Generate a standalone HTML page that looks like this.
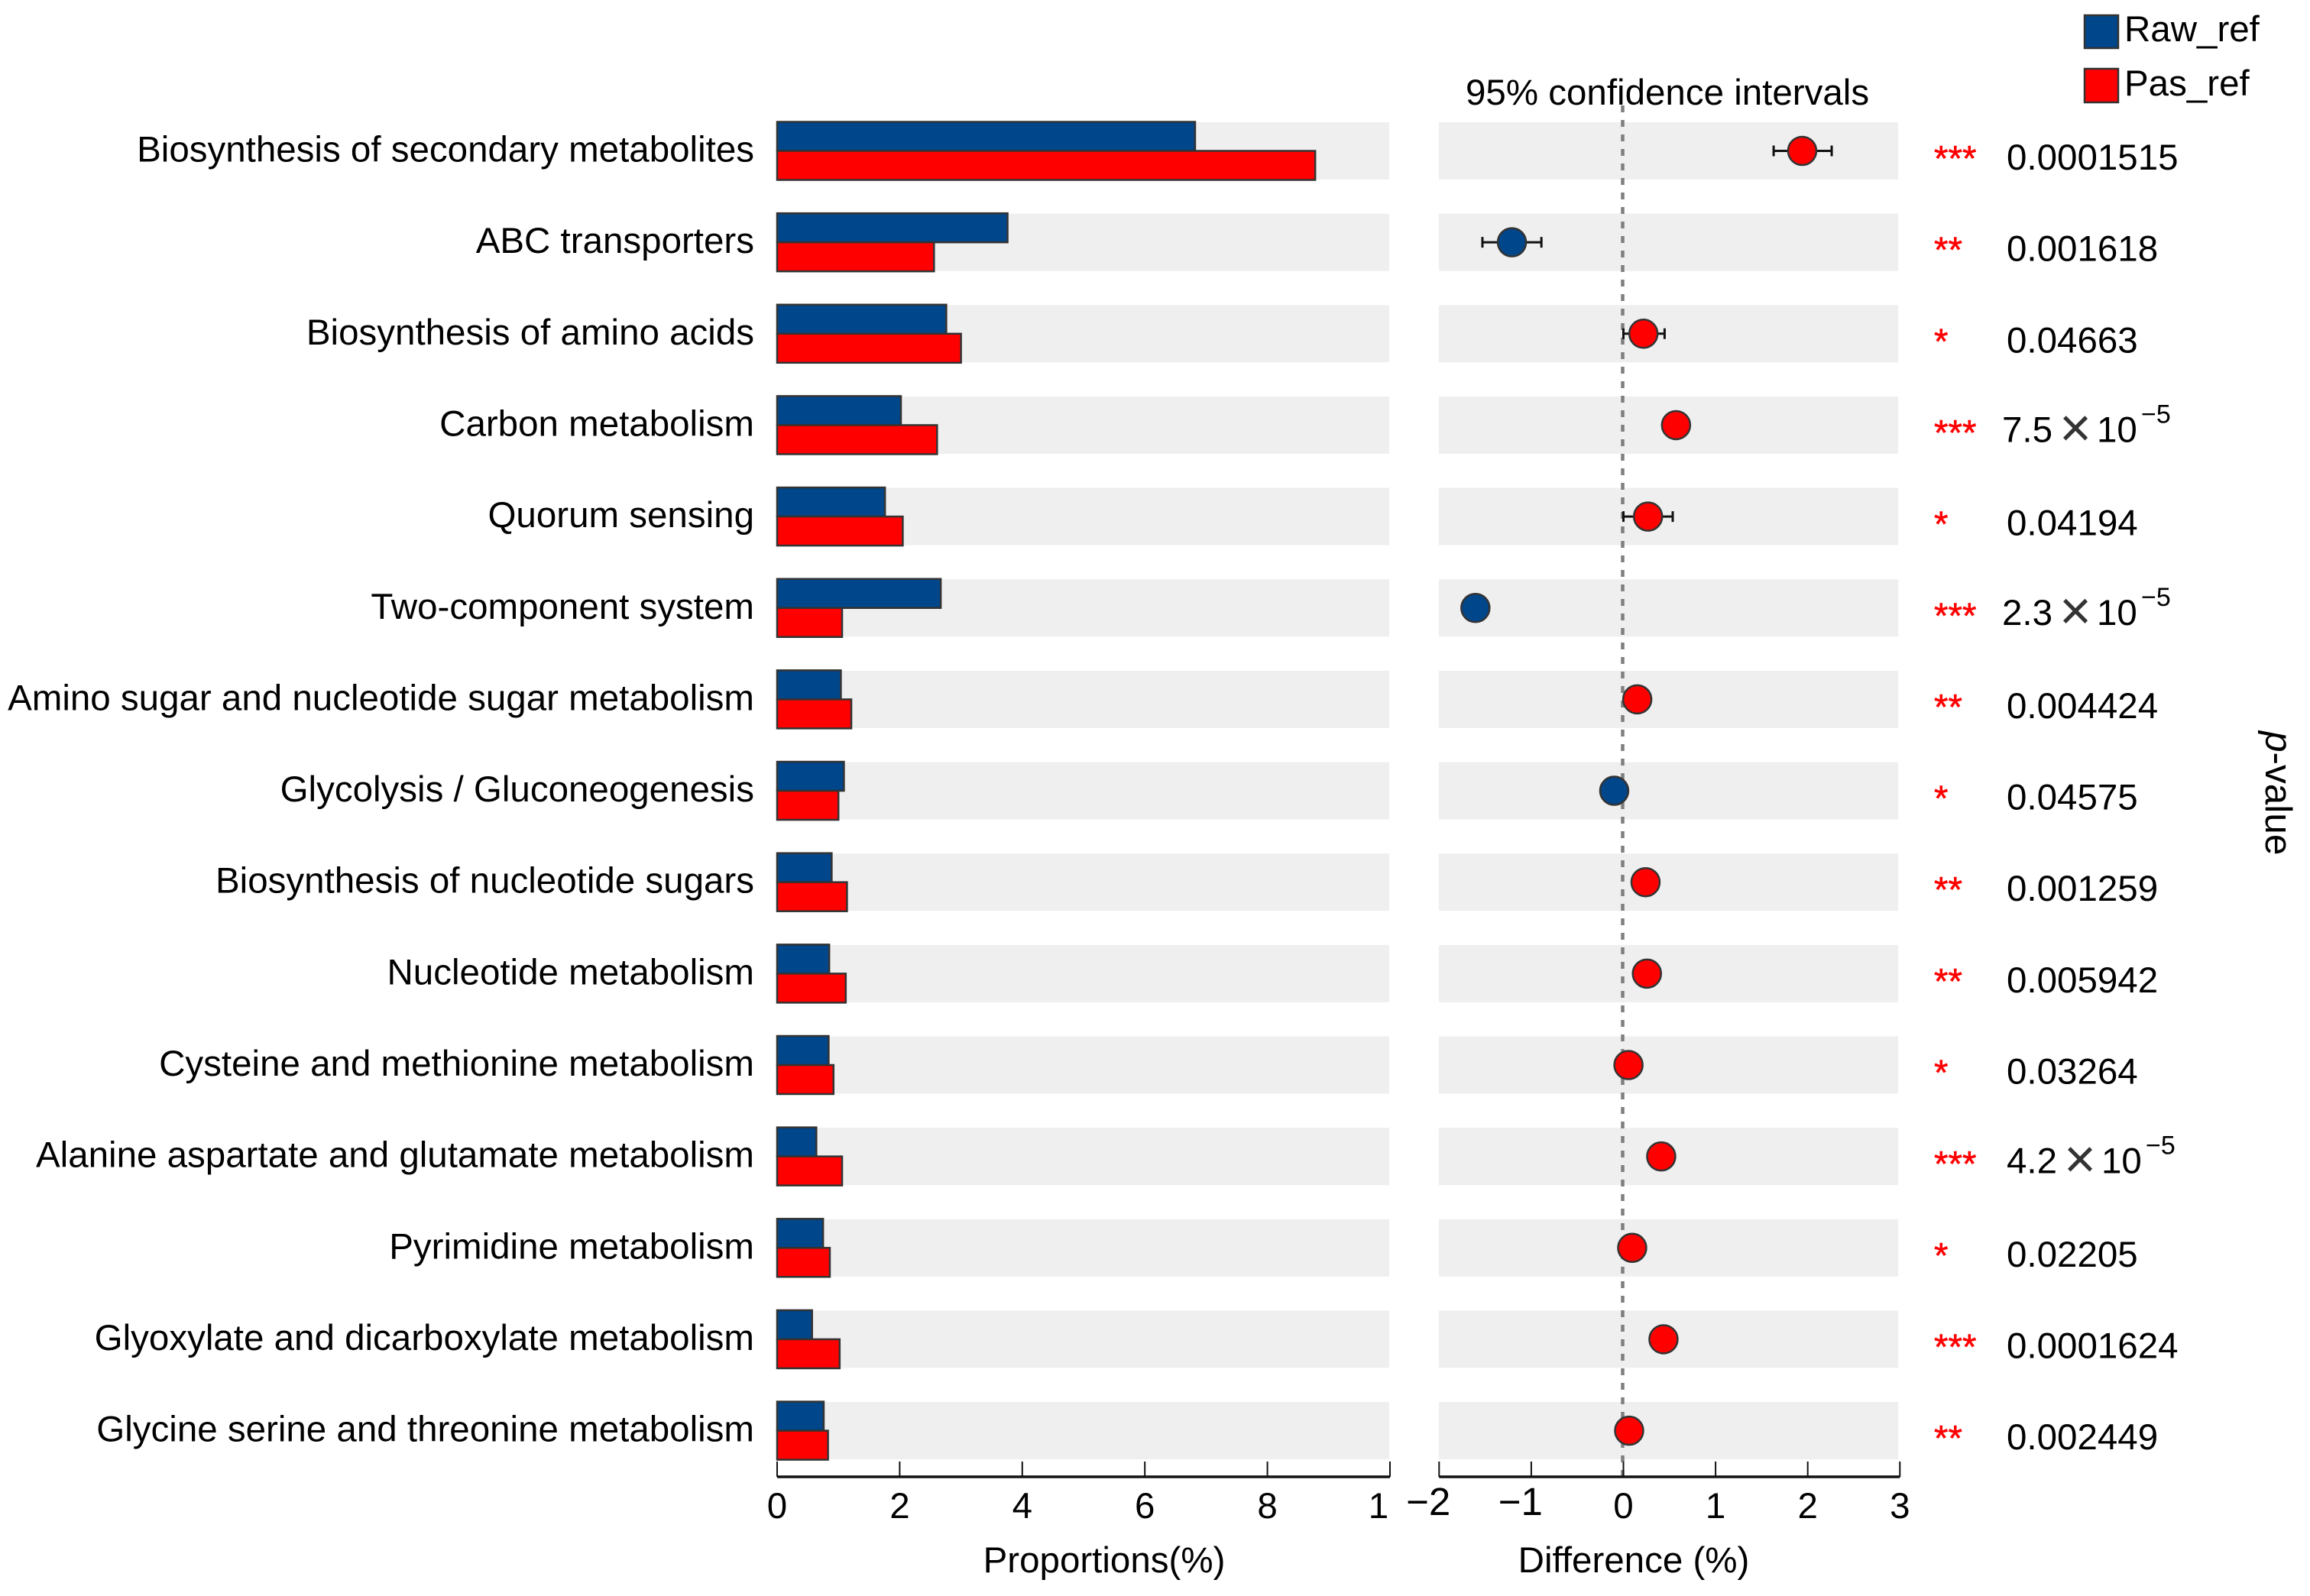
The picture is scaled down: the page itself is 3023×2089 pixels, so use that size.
<!DOCTYPE html>
<html lang="en">
<head>
<meta charset="utf-8">
<title>Pathway proportions and differences</title>
<style>
  html, body { margin: 0; padding: 0; background: #fff; }
  svg { display: block; }
  text { font-family: "Liberation Sans", Arial, sans-serif; font-size: 47.5px; fill: #000; }
</style>
</head>
<body>
<svg id="chart" xmlns="http://www.w3.org/2000/svg" width="3023" height="2089" viewBox="0 0 3023 2089">
  <g id="row-bands"></g>
  <g id="bars"></g>
  <g id="row-labels"></g>
  <line id="zero-line" stroke="#7f7f7f" stroke-width="4.5" stroke-dasharray="9 10"></line>
  <g id="points"></g>
  <g id="pvals"></g>
  <g id="axes"></g>

  <text x="1918" y="137">95% confidence intervals</text>
  <text x="1445" y="2058" text-anchor="middle">Proportions(%)</text>
  <text x="2138" y="2058" text-anchor="middle">Difference (%)</text>
  <text transform="translate(2965 957) rotate(90)" style="font-size:49.5px"><tspan font-style="italic">p</tspan>-value</text>

  <g>
    <rect x="2728" y="20" width="44" height="43" fill="#00468b" stroke="#333" stroke-width="2.5"></rect>
    <text x="2780" y="54">Raw_ref</text>
    <rect x="2728" y="90" width="44" height="44" fill="#ff0000" stroke="#333" stroke-width="2.5"></rect>
    <text x="2780" y="125">Pas_ref</text>
  </g>
</svg>

<script>
const categories = [
  'Biosynthesis of secondary metabolites',
  'ABC transporters',
  'Biosynthesis of amino acids',
  'Carbon metabolism',
  'Quorum sensing',
  'Two-component system',
  'Amino sugar and nucleotide sugar metabolism',
  'Glycolysis / Gluconeogenesis',
  'Biosynthesis of nucleotide sugars',
  'Nucleotide metabolism',
  'Cysteine and methionine metabolism',
  'Alanine aspartate and glutamate metabolism',
  'Pyrimidine metabolism',
  'Glyoxylate and dicarboxylate metabolism',
  'Glycine serine and threonine metabolism'
];
const rawRef = [6.82, 3.76, 2.76, 2.02, 1.76, 2.67, 1.04, 1.09, 0.89, 0.85, 0.84, 0.64, 0.75, 0.57, 0.76];
const pasRef = [8.78, 2.56, 3.00, 2.61, 2.05, 1.06, 1.21, 1.00, 1.14, 1.12, 0.92, 1.06, 0.86, 1.02, 0.83];
const difference = [1.94, -1.21, 0.217, 0.571, 0.267, -1.606, 0.15, -0.10, 0.24, 0.255, 0.055, 0.41, 0.095, 0.435, 0.062];
const ciLow = [1.63, -1.53, 0.0, null, 0.0, null, null, null, null, null, null, null, null, null, null];
const ciHigh = [2.26, -0.89, 0.447, null, 0.535, null, null, null, null, null, null, null, null, null, null];
const stars = ['***', '**', '*', '***', '*', '***', '**', '*', '**', '**', '*', '***', '*', '***', '**'];
const pValues = ['0.0001515', '0.001618', '0.04663', '7.5|10|−5', '0.04194', '2.3|10|−5', '0.004424', '0.04575', '0.001259', '0.005942', '0.03264', '4.2|10|−5', '0.02205', '0.0001624', '0.002449'];
const propTicks = [0, 2, 4, 6, 8, 10];
const propTickLabels = ['0', '2', '4', '6', '8', '1'];
const diffTicks = [-2, -1, 0, 1, 2, 3];
const diffTickLabels = ['−2', '−1', '0', '1', '2', '3'];

const NS = 'http://www.w3.org/2000/svg';
const BLUE = '#00468b', RED = '#ff0000', EDGE = '#333333', BAND = '#efefef';
const propX = v => 1017 + v * 80.2;
const diffX = v => 2124.5 + v * 120.6;
const rowTop = i => 160 + i * 119.65;
const rowMid = i => rowTop(i) + 37.5;
const AXIS_Y = 1933, TICK_TOP = 1913;

function mk(tag, parent, attrs, txt) {
  const el = document.createElementNS(NS, tag);
  for (const k in attrs) el.setAttribute(k, attrs[k]);
  if (txt !== undefined) el.textContent = txt;
  parent.appendChild(el);
  return el;
}
const $ = id => document.getElementById(id);

categories.forEach((name, i) => {
  const top = rowTop(i), mid = rowMid(i);

  const bandL = mk('rect', $('row-bands'), { x: 1016, y: top, width: 802, height: 75, fill: BAND });
  
  
  const bandR = mk('rect', $('row-bands'), { x: 1883, y: top, width: 601, height: 75, fill: BAND });
  
  

  const label = mk('text', $('row-labels'), { x: 987, y: mid + 14, 'text-anchor': 'end' }, name);
  
  

  const barRaw = mk('rect', $('bars'), { x: propX(0), y: top - 0.5, width: propX(rawRef[i]) - propX(0), height: 38, fill: BLUE, stroke: EDGE, 'stroke-width': 2.5 });
  
  
  const barPas = mk('rect', $('bars'), { x: propX(0), y: mid, width: propX(pasRef[i]) - propX(0), height: 38, fill: RED, stroke: EDGE, 'stroke-width': 2.5 });
  
  

  if (ciLow[i] !== null) {
    const ci = mk('path', $('points'), {
      d: `M${diffX(ciLow[i])} ${mid - 7}V${mid + 7}M${diffX(ciLow[i])} ${mid}H${diffX(ciHigh[i])}M${diffX(ciHigh[i])} ${mid - 7}V${mid + 7}`,
      fill: 'none', stroke: '#111', 'stroke-width': 3
    });
    
    
  }
  const dot = mk('circle', $('points'), { cx: diffX(difference[i]), cy: mid, r: 18.5, fill: difference[i] < 0 ? BLUE : RED, stroke: EDGE, 'stroke-width': 2.5 });
  
  

  const st = mk('text', $('pvals'), { x: 2531, y: mid + 26, style: 'fill:#ff0000;stroke:#ff0000;stroke-width:0.6' }, stars[i]);
  
  

  const parts = pValues[i].split('|');
  if (parts.length === 1) {
    const pv = mk('text', $('pvals'), { x: 2626, y: mid + 24.5 }, parts[0]);
    
    
  } else {
    const sx = parts[0] === '4.2' ? 6 : 0;
    const sy = mid + 22;
    const m = mk('text', $('pvals'), { x: 2620 + sx, y: sy }, parts[0]);
    
    
    const times = mk('text', $('pvals'), { x: 2716 + sx, y: sy + 6, 'text-anchor': 'middle', style: 'font-size:72px;fill:#333' }, '×');
    
    
    const base = mk('text', $('pvals'), { x: 2744 + sx, y: sy }, parts[1]);
    
    
    const exp = mk('text', $('pvals'), { x: 2802 + sx, y: sy - 25, style: 'font-size:34px' }, parts[2]);
    
    
  }
});

const zero = $('zero-line');
zero.setAttribute('x1', diffX(0) - 1);
zero.setAttribute('x2', diffX(0) - 1);
zero.setAttribute('y1', 138);
zero.setAttribute('y2', AXIS_Y);

function drawAxis(ticks, labels, scale, name) {
  const axis = mk('path', $('axes'), {
    d: `M${scale(ticks[0])} ${AXIS_Y}H${scale(ticks[ticks.length - 1])}`,
    stroke: '#111', 'stroke-width': 3.5, fill: 'none'
  });
  
  
  ticks.forEach((t, i) => {
    const tick = mk('line', $('axes'), { x1: scale(t), x2: scale(t), y1: TICK_TOP, y2: AXIS_Y, stroke: '#111', 'stroke-width': 2 });
    
    
    const neg = labels[i].charAt(0) === '−';
    const clipped = name === 'proportions' && t === 10;
    const lab = mk('text', $('axes'), neg
      ? { x: scale(t) + 15, y: 1983, 'text-anchor': 'end', style: 'font-size:51px' }
      : { x: scale(t) + (clipped ? -15 : 0), y: 1987, 'text-anchor': 'middle' }, labels[i]);
    
    
  });
}
drawAxis(propTicks, propTickLabels, propX, 'proportions');
drawAxis(diffTicks, diffTickLabels, diffX, 'difference');
</script>
</body>
</html>
